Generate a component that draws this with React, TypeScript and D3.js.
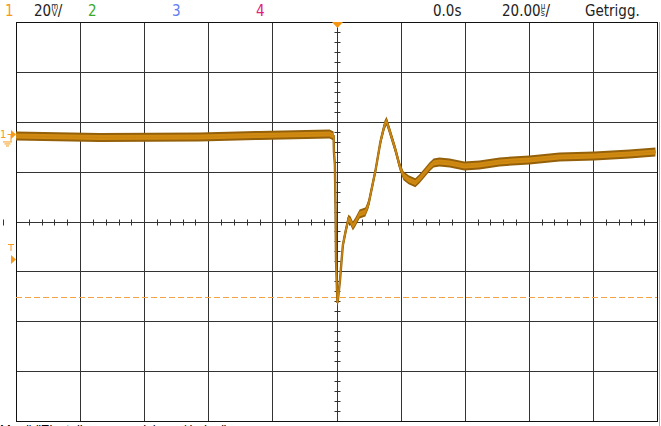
import React from 'react';
import * as d3 from 'd3';

// Channel 1 capture: time in µs, value in mV
const timeUs = [
  -100, -74, -42.7, -24, -2.2, -0.9, -0.8, -0.5, -0.3, -0.15, 0.15, 0.3, 0.6, 1.1, 1.6, 2.0,
  2.8, 3.7, 4.4, 5.1, 5.9, 7.2, 9.0, 10.0, 10.9, 12.2, 13.7, 15.0, 15.6, 16.5, 18.4, 19.7,
  20.9, 22.5, 24.6, 25.9, 27.5, 29.0, 30.3, 32.1, 35.3, 39.9, 44.6, 50.9, 60.2, 69.6, 80.5,
  91.4, 99.5,
];
const ch1mV = [
  -0.6, -1.2, -1.0, -0.4, 0.2, -0.6, -7.0, -12.2, -30.3, -50.3, -62.3, -67.6, -64.4, -58.3,
  -50.3, -44.3, -39.1, -33.9, -34.7, -36.7, -35.1, -31.9, -31.1, -27.9, -22.3, -14.2, -3.0,
  3.8, 5.4, 1.8, -6.2, -12.6, -16.6, -18.2, -19.4, -17.8, -15.4, -13.0, -11.4, -11.0, -11.4,
  -12.6, -12.2, -11.0, -10.2, -9.0, -8.6, -7.8, -7.0,
];

const channelLabels = ['1', '2', '3', '4'];
const channelColors = ['#f59a1c', '#3aa828', '#5d7df0', '#e0207a'];

const US_PER_DIV = 20;
const MV_PER_DIV = 20;
const CH1_OFFSET_DIV = 1.745; // ground marker position above centre
const TRIGGER_LEVEL_MV = -65;

const W = 661;
const H = 426;
const left = 16;
const right = 657;
const top = 22;
const bottom = 421;

const App: React.FC = () => {
  const x = d3.scaleLinear().domain([-5 * US_PER_DIV, 5 * US_PER_DIV]).range([left, right]);
  const yDiv = d3.scaleLinear().domain([-4, 4]).range([bottom, top]);
  const y = d3
    .scaleLinear()
    .domain([(-4 - CH1_OFFSET_DIV) * MV_PER_DIV, (4 - CH1_OFFSET_DIV) * MV_PER_DIV])
    .range([bottom, top]);

  const data = timeUs.map((t, i) => ({ t, v: ch1mV[i] }));
  const crisp = (v: number) => Math.round(v) + 0.5;

  const line = d3.line<{ t: number; v: number }>().x(d => x(d.t)).y(d => y(d.v));
  const band = (h: number) =>
    d3
      .area<{ t: number; v: number }>()
      .x(d => x(d.t))
      .y0(d => y(d.v) + h)
      .y1(d => y(d.v) - h);

  const cx = crisp(x(0));
  const cy = crisp(yDiv(0));
  const groundY = y(0);
  const trigY = crisp(y(TRIGGER_LEVEL_MV));

  const vLines = d3.range(-5, 6).map(i => crisp(x(i * US_PER_DIV)));
  const hLines = d3.range(-4, 5).map(j => crisp(yDiv(j)));
  const xMinor = d3.range(-50, 51).filter(k => k % 5 !== 0).map(k => x((k * US_PER_DIV) / 5));
  const yMinor = d3.range(-20, 21).filter(k => k % 5 !== 0).map(k => yDiv(k / 5));

  const font = "'DejaVu Sans Condensed', 'DejaVu Sans', sans-serif";

  return (
    <svg
      width={W}
      height={H}
      style={{ position: 'absolute', left: 0, top: 0, background: '#fff' }}
      fontFamily={font}
    >
      <rect x={0} y={0} width={W} height={H} fill="#fff" />

      {/* header */}
      <g fontSize={15}>
        {channelLabels.map((c, i) => (
          <text key={c} x={[5, 88, 172, 256][i]} y={16} fill={channelColors[i]}>
            {c}
          </text>
        ))}
        <text x={34} y={16} fill="#222">
          20
          <tspan fontSize={8} dy={-7}>m</tspan>
          <tspan fontSize={9} dx={-6.5} dy={7}>V</tspan>
          <tspan dx={0.5}>/</tspan>
        </text>
        <text x={433} y={16} fill="#222">0.0s</text>
        <text x={502} y={16} fill="#222">
          20.00
          <tspan fontSize={8} dy={-7}>µ</tspan>
          <tspan fontSize={9} dx={-4.5} dy={7}>s</tspan>
          <tspan dx={0.5}>/</tspan>
        </text>
        <text x={585} y={16} fill="#222">Getrigg.</text>
      </g>

      {/* grid */}
      <g stroke="#333" strokeWidth={1}>
        {vLines.map((vx, i) => (
          <line key={'v' + i} x1={vx} x2={vx} y1={top} y2={bottom} />
        ))}
        {hLines.map((hy, i) => (
          <line key={'h' + i} x1={left} x2={right} y1={hy} y2={hy} />
        ))}
        {xMinor.map((mx, i) => (
          <line key={'xm' + i} x1={crisp(mx)} x2={crisp(mx)} y1={cy - 3} y2={cy + 3} />
        ))}
        {yMinor.map((my, i) => (
          <line key={'ym' + i} x1={cx - 3} x2={cx + 3} y1={crisp(my)} y2={crisp(my)} />
        ))}
      </g>
      <rect x={left + 0.5} y={top + 0.5} width={right - left} height={bottom - top} fill="none" stroke="#111" />
      <line x1={659.5} x2={659.5} y1={top} y2={H} stroke="#aaa" />

      {/* trigger level */}
      <line
        x1={left}
        x2={right}
        y1={trigY}
        y2={trigY}
        stroke="#f3a345"
        strokeDasharray="6,3"
      />

      {/* trace */}
      <path d={band(4.5)(data) ?? ''} fill="#94600a" />
      <path d={line(data) ?? ''} fill="none" stroke="#94600a" strokeWidth={2.4} />
      <path d={band(2.5)(data) ?? ''} fill="#d08a12" />
      <path d={line(data) ?? ''} fill="none" stroke="#c98511" strokeWidth={1.1} />

      {/* trigger position */}
      <path d={`M${cx - 5.5},${top} L${cx + 5.5},${top} L${cx},${top + 6} Z`} fill="#f5940f" />

      {/* channel 1 ground marker */}
      <g fill="#f59a1c" stroke="#f59a1c">
        <text x={0} y={groundY + 4} fontSize={11} stroke="none">1</text>
        <path d={`M7.5,${groundY} H11 V${groundY + 7}`} fill="none" strokeWidth={1} />
        <path d={`M11,${groundY - 4.5} L16,${groundY} L11,${groundY + 4.5} Z`} stroke="none" />
        <line x1={3} x2={12} y1={groundY + 7.5} y2={groundY + 7.5} />
        <line x1={4.5} x2={10.5} y1={groundY + 9.5} y2={groundY + 9.5} />
        <line x1={6} x2={9} y1={groundY + 11.5} y2={groundY + 11.5} />
      </g>

      {/* trigger marker */}
      <g fill="#f59a1c" stroke="#f59a1c">
        <line x1={8} x2={14} y1={244.5} y2={244.5} />
        <line x1={11} x2={11} y1={244.5} y2={251} />
        <path d="M11,255 L16,259.5 L11,264 Z" stroke="none" />
      </g>

      {/* bottom menu line (cut off by the screen edge) */}
      <text x={0} y={434} fontSize={13} fill="#000" fontFamily="'Liberation Sans', Arial, sans-serif">
        Menü "Einstellungen speichern / laden"
      </text>
    </svg>
  );
};

export default App;
